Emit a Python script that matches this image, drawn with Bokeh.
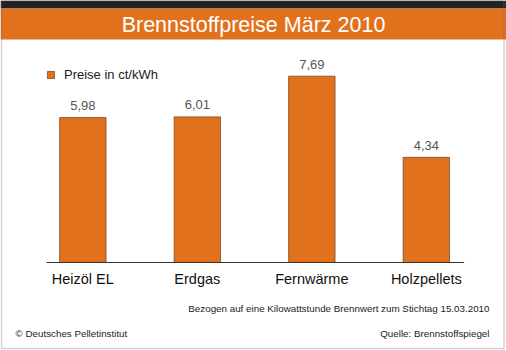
from bokeh.plotting import figure
from bokeh.models import Range1d, Label, BoxAnnotation, Legend, LegendItem, ColumnDataSource
from bokeh.core.properties import value
from bokeh.embed import file_html
from bokeh.resources import INLINE

categories = ["Heizöl EL", "Erdgas", "Fernwärme", "Holzpellets"]
prices = [5.98, 6.01, 7.69, 4.34]
price_labels = ["5,98", "6,01", "7,69", "4,34"]
title_text = "Brennstoffpreise März 2010"
series_name = "Preise in ct/kWh"
note_text = "Bezogen auf eine Kilowattstunde Brennwert zum Stichtag 15.03.2010"
credit_text = "© Deutsches Pelletinstitut"
source_text = "Quelle: Brennstoffspiegel"

FONT = "Liberation Sans"
ORANGE = "#E2711D"
W, H = 506, 350

xs = list(range(len(categories)))
src = ColumnDataSource(dict(x=xs, top=prices, lab=price_labels,
                            cat=categories, zero=[0] * len(xs)))

# frame covers the whole canvas
p = figure(width=W, height=H, output_backend="svg", toolbar_location=None,
           x_range=Range1d(-0.719, 3.70), y_range=Range1d(-3.632, 10.813),
           x_axis_location=None, y_axis_location=None, min_border=0)
p.background_fill_color = "white"
p.border_fill_color = "white"
p.outline_line_color = None
p.xgrid.grid_line_color = None
p.ygrid.grid_line_color = None

def sy(cy):  # canvas y from top -> screen units (from bottom)
    return H - cy

# header bands
p.add_layout(BoxAnnotation(top=sy(0), bottom=sy(8), left=0, right=W,
                           top_units="screen", bottom_units="screen",
                           left_units="screen", right_units="screen",
                           fill_color="#222222", fill_alpha=1, line_color=None))
p.add_layout(BoxAnnotation(top=sy(8), bottom=sy(39), left=0, right=W,
                           top_units="screen", bottom_units="screen",
                           left_units="screen", right_units="screen",
                           fill_color=ORANGE, fill_alpha=1, line_color=None))

bars = p.vbar(x="x", top="top", width=0.405, bottom=0, source=src,
              fill_color=ORANGE, line_color="#7a4a28", line_width=0.8)

# category baseline
p.line(x=[xs[0] - 0.317, xs[-1] + 0.33], y=[0, 0], line_color="#333333", line_width=1)

p.text(x="x", y="top", text="lab", source=src, y_offset=-12,
       text_align="center", text_baseline="middle",
       text_font=value(FONT), text_font_size="13px", text_color="#555555")
p.text(x="x", y="zero", text="cat", source=src, y_offset=17,
       text_align="center", text_baseline="middle",
       text_font=value(FONT), text_font_size="14.5px", text_color="#111111")

legend = Legend(items=[LegendItem(label=series_name, renderers=[bars])],
                location=(46, 268), padding=0, margin=0, border_line_color=None,
                background_fill_alpha=0, glyph_width=9, glyph_height=9,
                label_standoff=9, label_text_font=FONT, label_text_font_size="13px",
                label_text_color="#222222")
p.add_layout(legend)

p.add_layout(Label(x=253, y=sy(24), x_units="screen", y_units="screen",
                   text=title_text, text_align="center", text_baseline="middle",
                   text_font=FONT, text_font_size="21.5px", text_color="white"))
p.add_layout(Label(x=489, y=sy(308), x_units="screen", y_units="screen",
                   text=note_text, text_align="right", text_baseline="middle",
                   text_font=FONT, text_font_size="9.8px", text_color="#222222"))
p.add_layout(Label(x=15, y=sy(333), x_units="screen", y_units="screen",
                   text=credit_text, text_align="left", text_baseline="middle",
                   text_font=FONT, text_font_size="9.8px", text_color="#222222"))
p.add_layout(Label(x=489, y=sy(333), x_units="screen", y_units="screen",
                   text=source_text, text_align="right", text_baseline="middle",
                   text_font=FONT, text_font_size="9.8px", text_color="#222222"))

# outer grey frame
p.add_layout(BoxAnnotation(top=sy(0), bottom=sy(348), left=1, right=503.5,
                           top_units="screen", bottom_units="screen",
                           left_units="screen", right_units="screen",
                           fill_alpha=0, line_color="#6b6b6b", line_width=1.5))

open("out.html", "w").write(file_html(p, INLINE))
